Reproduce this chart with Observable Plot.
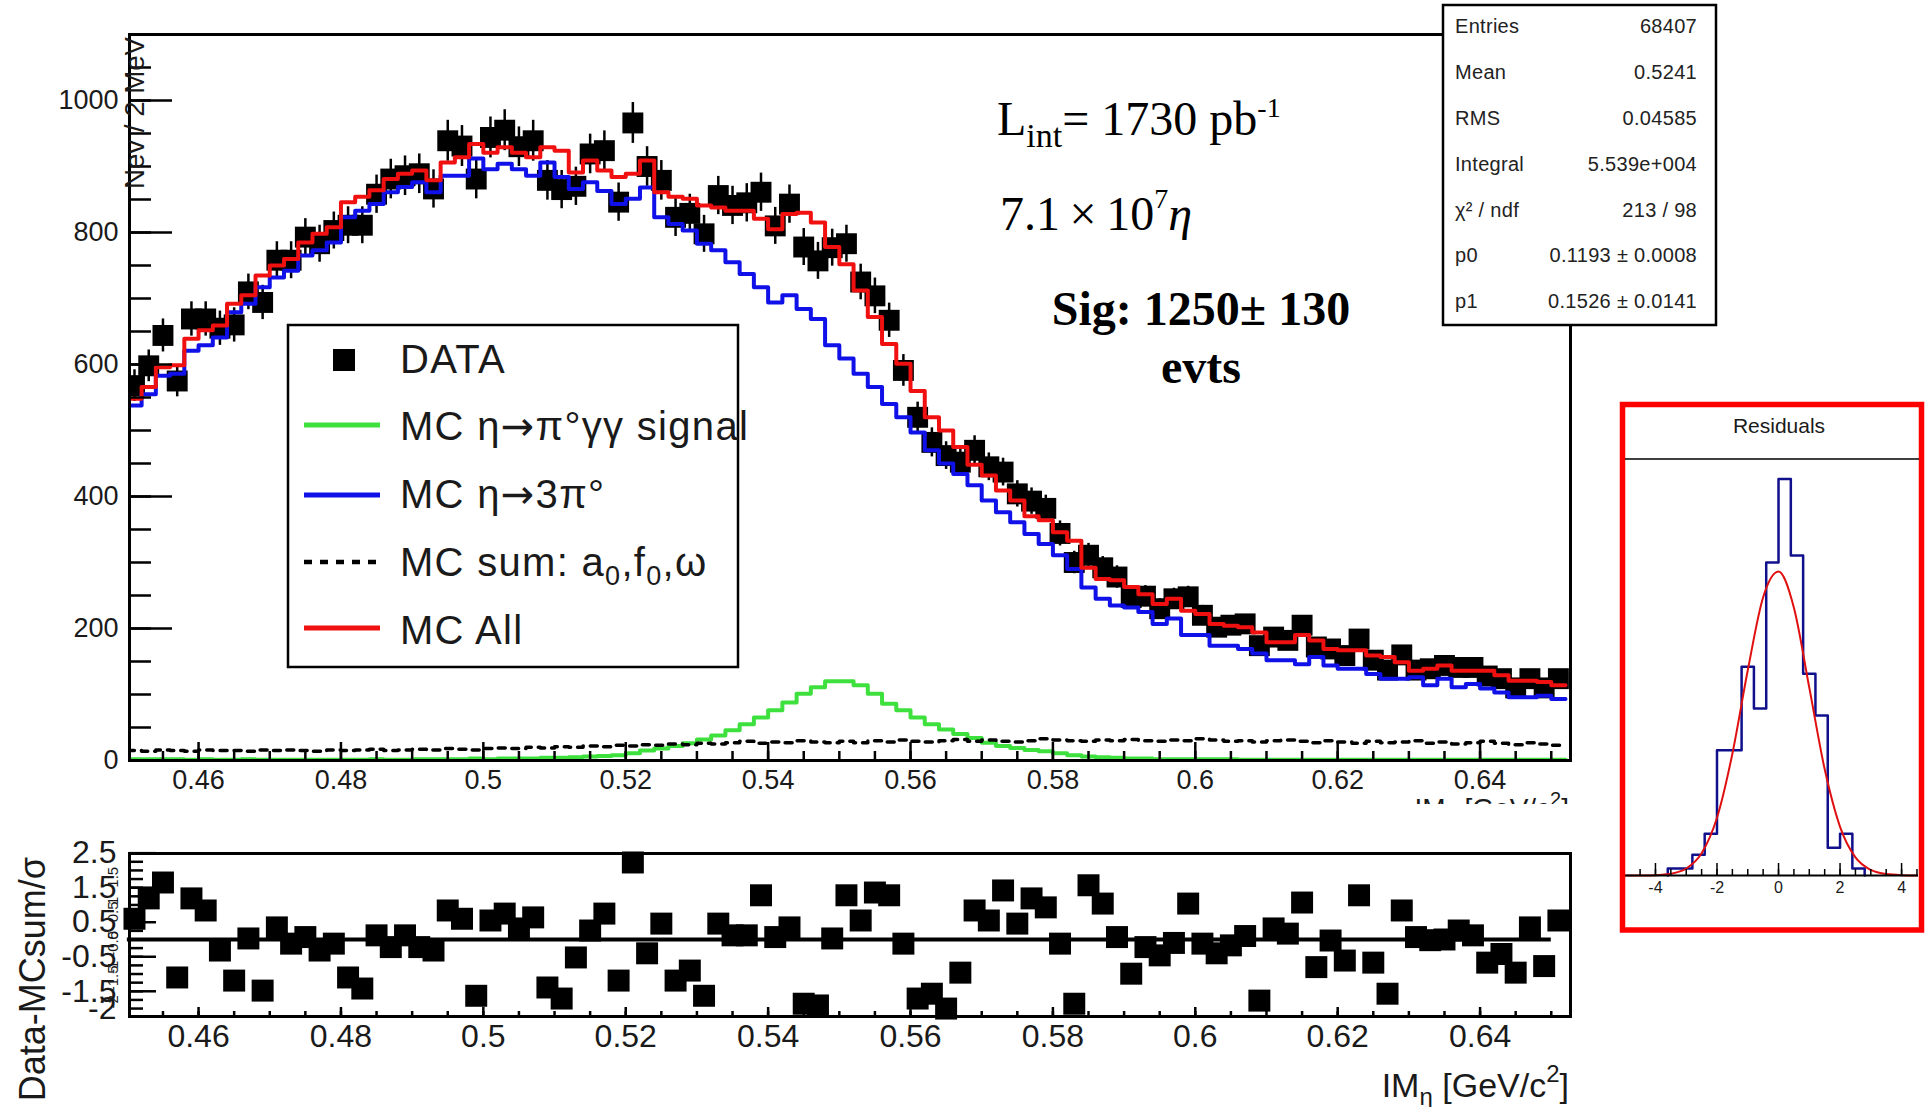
<!DOCTYPE html>
<html>
<head>
<meta charset="utf-8">
<script src="https://cdn.jsdelivr.net/npm/d3@7"></script>
<script src="https://cdn.jsdelivr.net/npm/@observablehq/plot@0.6"></script>
<style>
  html, body { margin: 0; padding: 0; background: #fff; }
  #page { position: relative; width: 1932px; height: 1107px; overflow: hidden; background: #fff; }
</style>
</head>
<body>
<div id="page"></div>
<script>
// ---------------------------------------------------------------
// Invariant-mass spectrum of eta candidates, 2 MeV bins from 0.450 GeV
// ---------------------------------------------------------------
const binStart = 0.450;
const binWidth = 0.002;

// DATA (events per bin) and their statistical errors
const dataCounts = [
  568,598,644,575,669,669,655,660,710,694,
  758,758,793,783,803,811,811,858,881,886,
  889,866,939,931,881,944,955,930,939,879,
  865,870,919,924,846,966,900,879,823,829,
  798,856,841,845,861,810,843,778,757,777,
  783,725,704,667,591,520,482,462,452,470,
  445,437,404,393,382,344,300,311,292,278,
  247,249,230,245,248,220,202,205,207,174,
  187,182,205,172,169,159,184,152,137,160,
  137,139,144,141,141,128,124,110,124,110,
  124];
const dataErrors = [
  24,24,25,24,26,26,26,26,27,26,
  28,28,28,28,28,28,28,29,30,30,
  30,29,31,31,30,31,31,30,31,30,
  29,29,30,30,29,31,30,30,29,29,
  28,29,29,29,29,28,29,28,28,28,
  28,27,27,26,24,23,22,21,21,22,
  21,21,20,20,20,19,17,18,17,17,
  16,16,15,16,16,15,14,14,14,13,
  14,13,14,13,13,13,14,12,12,13,
  12,12,12,12,12,11,11,10,11,10,
  11];

// MC eta -> 3pi0
const mcEta3pi0 = [
  538,555,583,586,621,629,641,679,692,717,
  732,742,765,773,785,823,833,843,861,869,
  876,861,886,886,912,896,904,896,886,906,
  884,866,876,863,843,851,868,823,813,803,
  783,773,755,737,717,694,705,684,669,629,
  609,586,566,540,520,497,470,450,434,417,
  394,376,361,343,328,311,290,262,245,235,
  232,225,207,215,190,190,174,174,169,162,
  152,152,146,157,144,139,139,131,124,124,
  126,114,124,111,116,109,103,96,96,98,
  93];

// MC all contributions
const mcAll = [
  548,566,596,599,639,652,659,692,705,735,
  750,760,785,798,808,846,854,864,881,889,
  894,879,906,914,934,921,929,921,914,929,
  924,891,909,894,884,889,909,861,854,851,
  841,838,833,833,821,805,828,830,815,778,
  752,712,672,631,601,560,520,500,475,448,
  432,409,394,370,364,346,333,292,275,273,
  263,252,237,245,227,222,207,204,202,194,
  179,179,190,182,169,167,167,159,157,149,
  136,139,144,136,136,136,129,121,121,119,
  114];

// MC eta -> pi0 gamma gamma signal
const mcSignal = [
  2,2,2,2,1,2,1,1,2,1,
  1,1,1,1,1,1,1,2,1,1,
  2,2,2,2,3,2,3,3,3,4,
  4,5,6,7,8,11,15,18,22,26,
  32,38,46,55,65,76,88,101,111,120,
  120,114,101,86,76,65,55,47,40,34,
  27,22,19,16,14,11,8,6,5,4,
  3,3,2,2,2,2,2,2,1,1,
  1,1,1,1,1,1,1,1,1,1,
  1,1,1,1,1,1,1,1,1,1,
  1];

// MC sum of a0, f0, omega backgrounds
const mcBkgSum = [
  15,14,16,15,14,16,15,15,14,16,
  15,16,15,14,16,15,16,17,15,16,
  17,16,18,17,16,18,19,18,20,19,
  21,20,22,21,23,22,24,23,25,24,
  26,25,27,29,26,28,27,30,28,27,
  29,27,30,28,31,29,28,30,32,29,
  31,29,28,30,33,31,30,29,31,30,
  32,30,29,31,30,33,31,29,30,28,
  30,31,29,27,30,28,26,29,27,28,
  30,26,28,25,27,29,26,24,27,25,
  23];

// (Data - MCsum) / sigma per bin
const residuals = [
  0.6,1.19,1.65,-1.1,1.19,0.84,-0.32,-1.19,0.03,-1.48,
  0.35,-0.12,0.07,-0.32,-0.12,-1.1,-1.42,0.12,-0.22,0.12,
  -0.22,-0.32,0.84,0.6,-1.63,0.55,0.75,0.32,0.64,-1.39,
  -1.71,-0.52,0.26,0.75,-1.19,2.23,-0.4,0.46,-1.19,-0.9,
  -1.63,0.46,0.12,0.12,1.28,0.07,0.35,-1.86,-1.91,0.03,
  1.28,0.55,1.36,1.28,-0.12,-1.71,-1.57,-2.0,-0.96,0.84,
  0.55,1.42,0.46,1.19,0.93,-0.12,-1.86,1.57,1.04,0.07,
  -0.99,-0.22,-0.46,-0.1,1.04,-0.12,-0.4,-0.17,0.1,-1.77,
  0.32,0.17,1.07,-0.8,-0.03,-0.61,1.28,-0.67,-1.57,0.84,
  0.07,-0.02,0.0,0.26,0.12,-0.67,-0.42,-0.96,0.35,-0.77,
  0.55];
const fitRange = [0.450, 0.650];

// Distribution of residuals (0.4 wide bins starting at -3.6) and its Gaussian fit
const residHistStart = -3.6;
const residHistWidth = 0.4;
const residHistCounts = [1,1,3,6,18,18,30,24,45,57,46,29,23,4,6,1];
const gaussFitX = [-4.97,-4.5,-4,-3.5,-3,-2.5,-2,-1.5,-1,-0.5,0,0.5,1,1.5,2,2.5,3,3.5,4,4.55];
const gaussFitY = [0,0.01,0.05,0.25,1.0,3.2,8.3,17.5,29.5,40,43.7,38.5,27,15.3,7,2.6,0.8,0.2,0.05,0.01];

// Axis ticks and labels
const massTicks = [0.46,0.48,0.50,0.52,0.54,0.56,0.58,0.60,0.62,0.64];
const massTickLabels = ["0.46","0.48","0.5","0.52","0.54","0.56","0.58","0.6","0.62","0.64"];
const countTicks = [0,200,400,600,800,1000];
const countTickLabels = ["0","200","400","600","800","1000"];
const residTicks = [2.5,1.5,0.5,-0.5,-1.5,-2];
const residTickLabels = ["2.5","1.5","0.5","-0.5","-1.5","-2"];
// second, smaller set of residual-axis labels drawn vertically over the first
const residTicksSmall = [1.5,1,0.5,0,-0.5,-1,-1.5,-2];
const residTickLabelsSmall = ["1.5","1","0.5","0","-0.5","-1","-1.5","-2"];
const pullTicks = [-4,-2,0,2,4];
const pullTickLabels = ["-4","-2","0","2","4"];

// Legend, statistics box and annotations
const legendLabels = ["DATA", "MC \u03B7\u2192\u03C0\u00B0\u03B3\u03B3 signal", "MC \u03B7\u21923\u03C0\u00B0", "MC sum: a|0|,f|0|,\u03C9", "MC All"];
const statRows = [
  ["Entries", "68407"], ["Mean", "0.5241"], ["RMS", "0.04585"], ["Integral", "5.539e+004"],
  ["\u03C7\u00B2 / ndf", "213 / 98"], ["p0", "0.1193 \u00B1 0.0008"], ["p1", "0.1526 \u00B1 0.0141"]];
const lumiText = "1730";
const etaCount = "7.1";
const signalText = "Sig: 1250\u00B1 130";

// ---------------------------------------------------------------
const FONT = "'Liberation Sans', Arial, Helvetica, sans-serif";
const SERIF = "'Liberation Serif', 'Times New Roman', Times, serif";
const INK = "#1a1a1a";
const C_RED = "#f01010", C_BLUE = "#1010e8", C_GREEN = "#3ee03e";
const X_DOMAIN = [0.4503, 0.6527];

const bins = dataCounts.map((v, i) => ({
  mid: binStart + (i + 0.5) * binWidth,
  data: v, err: dataErrors[i], res: residuals[i]
}));
const steps = vals => vals.map((v, i) => ({x: binStart + i * binWidth, y: v}))
  .concat([{x: binStart + vals.length * binWidth, y: vals[vals.length - 1]}]);
const fmt = (ticks, labels) => d => labels[ticks.findIndex(t => Math.abs(t - d) < 1e-9)];
const massMinor = d3.range(91, 131).map(k => k * 0.005);

const page = document.getElementById("page");
function place(el, left, top) {
  el.style.position = "absolute";
  el.style.left = left + "px";
  el.style.top = top + "px";
  page.appendChild(el);
}

// ---------------- upper pad: mass spectrum ----------------
const mainW = 1600, mainH = 806, mainM = {top: 34, right: 30, bottom: 46, left: 129};
const mainPW = mainW - mainM.left - mainM.right;
const mainPH = mainH - mainM.top - mainM.bottom;
const lineOpts = {x: "x", y: "y", curve: "step-after", clip: true};

const main = Plot.plot({
  width: mainW, height: mainH,
  marginTop: mainM.top, marginRight: mainM.right, marginBottom: mainM.bottom, marginLeft: mainM.left,
  x: {domain: X_DOMAIN},
  y: {domain: [0, 1100]},
  style: {fontFamily: FONT, color: INK, background: "#fff"},
  marks: [
    Plot.ruleX(bins, {x: "mid", y1: d => d.data - d.err, y2: d => d.data + d.err, stroke: "#000", strokeWidth: 2.5, clip: true}),
    Plot.dot(bins, {x: "mid", y: "data", symbol: "square", r: 11.8, fill: "#000", clip: true}),
    Plot.line(steps(mcEta3pi0), {...lineOpts, stroke: C_BLUE, strokeWidth: 4}),
    Plot.line(steps(mcSignal), {...lineOpts, stroke: C_GREEN, strokeWidth: 4}),
    Plot.line(steps(mcBkgSum), {...lineOpts, stroke: "#000", strokeWidth: 3.5, strokeDasharray: "7,7"}),
    Plot.line(steps(mcAll), {...lineOpts, stroke: C_RED, strokeWidth: 4}),
    Plot.tickY(d3.range(50, 1100, 50), {insetRight: mainPW - 22, stroke: "#000", strokeWidth: 2.5}),
    Plot.tickY(countTicks, {insetRight: mainPW - 43, stroke: "#000", strokeWidth: 2.5}),
    Plot.tickX(massMinor, {insetTop: mainPH - 9, stroke: "#000", strokeWidth: 2.5}),
    Plot.tickX(massTicks, {insetTop: mainPH - 18, stroke: "#000", strokeWidth: 2.5}),
    Plot.frame({stroke: "#000", strokeWidth: 3}),
    Plot.axisY(countTicks, {tickSize: 0, tickPadding: 11, fontSize: 27, label: null, tickFormat: fmt(countTicks, countTickLabels)}),
    Plot.axisX(massTicks, {tickSize: 0, tickPadding: 9, fontSize: 27, label: null, tickFormat: fmt(massTicks, massTickLabels)})
  ]
});
place(main, 0, 0);

// ---------------- lower pad: residuals vs mass ----------------
const resW = 1600, resH = 301, resM = {top: 47, right: 30, bottom: 91, left: 129};
const resPW = resW - resM.left - resM.right;
const resPH = resH - resM.top - resM.bottom;
const lower = Plot.plot({
  width: resW, height: resH,
  marginTop: resM.top, marginRight: resM.right, marginBottom: resM.bottom, marginLeft: resM.left,
  x: {domain: X_DOMAIN},
  y: {domain: [-2.23, 2.49]},
  style: {fontFamily: FONT, color: INK, background: "#fff"},
  marks: [
    Plot.ruleY([0], {x1: fitRange[0], x2: fitRange[1], stroke: "#000", strokeWidth: 4}),
    Plot.dot(bins, {x: "mid", y: "res", symbol: "square", r: 12.4, fill: "#000"}),
    Plot.tickY(d3.range(-8, 10).map(k => k * 0.25), {insetRight: resPW - 14, stroke: "#000", strokeWidth: 2.5}),
    Plot.tickY([2.5, 1.5, 0.5, -0.5, -1.5], {insetRight: resPW - 27, stroke: "#000", strokeWidth: 2.5}),
    Plot.tickX(massMinor, {insetTop: resPH - 5, stroke: "#000", strokeWidth: 2.5}),
    Plot.tickX(massTicks, {insetTop: resPH - 9, stroke: "#000", strokeWidth: 2.5}),
    Plot.frame({stroke: "#000", strokeWidth: 3}),
    Plot.axisY(residTicks, {tickSize: 0, tickPadding: 13, fontSize: 32, label: null, tickFormat: fmt(residTicks, residTickLabels)}),
    Plot.text(residTicksSmall, {y: d => d, frameAnchor: "left", dx: -16, rotate: -90, fontSize: 15, fill: INK,
      text: fmt(residTicksSmall, residTickLabelsSmall)}),
    Plot.axisX(massTicks, {tickSize: 0, tickPadding: 8, fontSize: 32, label: null, tickFormat: fmt(massTicks, massTickLabels)})
  ]
});
place(lower, 0, 806);

// ---------------- inset: distribution of residuals ----------------
const insW = 293, insH = 468, insM = {top: 0, right: 0, bottom: 52, left: 0};
const insPH = insH - insM.top - insM.bottom;
const n = residHistCounts.length;
const histOutline = [{x: residHistStart, y: 0}]
  .concat(residHistCounts.map((c, i) => ({x: residHistStart + i * residHistWidth, y: c})))
  .concat([{x: residHistStart + n * residHistWidth, y: residHistCounts[n - 1]},
           {x: residHistStart + n * residHistWidth, y: 0}]);
const gaussPts = gaussFitX.map((x, i) => ({x, y: gaussFitY[i]}));
const inset = Plot.plot({
  width: insW, height: insH,
  marginTop: insM.top, marginRight: insM.right, marginBottom: insM.bottom, marginLeft: insM.left,
  x: {domain: [-4.974, 4.55]},
  y: {domain: [0, 59.8], axis: null},
  style: {fontFamily: FONT, color: INK, background: "#fff"},
  marks: [
    Plot.line(histOutline, {x: "x", y: "y", curve: "step-after", stroke: "#10108c", strokeWidth: 2.5}),
    Plot.line(gaussPts, {x: "x", y: "y", curve: "monotone-x", stroke: "#e01010", strokeWidth: 2}),
    Plot.ruleY([0], {stroke: "#000", strokeWidth: 2}),
    Plot.tickX(d3.range(-9, 10).map(k => k * 0.5), {insetTop: insPH - 6, stroke: "#000", strokeWidth: 1.5}),
    Plot.tickX(pullTicks, {insetTop: insPH - 12, stroke: "#000", strokeWidth: 1.5}),
    Plot.axisX(pullTicks, {tickSize: 0, tickPadding: 6, fontSize: 16, label: null, tickFormat: fmt(pullTicks, pullTickLabels)})
  ]
});
place(inset, 1625, 459);

// ---------------- titles, legend, statistics box, annotations ----------------
function legendLabel(s) {
  // "a|0|" marks a subscript; arrows use a font with a full-size glyph
  const parts = s.split("|");
  let out = "";
  parts.forEach((p, i) => {
    if (i % 2 === 1) out += `<tspan font-size="27" dy="9">${p}</tspan>`;
    else out += (i === 0 ? p : `<tspan dy="-9">${p}</tspan>`);
  });
  return out.replace(/\u2192/g, `<tspan font-family="'DejaVu Sans'">\u2192</tspan>`);
}
const legendRows = [
  {y: 360, text: 373, kind: "square"},
  {y: 425, text: 440, kind: "line", color: C_GREEN},
  {y: 495, text: 508, kind: "line", color: C_BLUE},
  {y: 562, text: 576, kind: "dash", color: "#000"},
  {y: 628, text: 644, kind: "line", color: C_RED}
];
const legendSvg = legendRows.map((r, i) => {
  let sym;
  if (r.kind === "square") sym = `<rect x="333" y="${r.y - 11}" width="22" height="22" fill="#000"/>`;
  else if (r.kind === "dash") sym = `<line x1="304" x2="380" y1="${r.y}" y2="${r.y}" stroke="#000" stroke-width="4.5" stroke-dasharray="8,8"/>`;
  else sym = `<line x1="304" x2="380" y1="${r.y}" y2="${r.y}" stroke="${r.color}" stroke-width="5"/>`;
  return sym + `<text x="400" y="${r.text}" font-size="40" letter-spacing="1.3" fill="${INK}">${legendLabel(legendLabels[i])}</text>`;
}).join("");

const statBase = [33, 79, 125, 171, 217, 262, 308];
const statSvg = statRows.map((r, i) =>
  `<text x="1455" y="${statBase[i]}" font-size="20" letter-spacing="0.3" fill="#222">${r[0]}</text>` +
  `<text x="1697" y="${statBase[i]}" font-size="20" letter-spacing="0.3" fill="#222" text-anchor="end">${r[1]}</text>`).join("");

const overlay = `
<svg xmlns="http://www.w3.org/2000/svg" width="1932" height="1107" style="position:absolute;left:0;top:0" font-family="${FONT}">
  <defs><clipPath id="upperPad"><rect x="0" y="0" width="1932" height="804"/></clipPath></defs>

  <text transform="translate(144,37) rotate(-90)" text-anchor="end" font-size="27" textLength="152" lengthAdjust="spacingAndGlyphs" fill="${INK}">Nev / 2 MeV</text>
  <text clip-path="url(#upperPad)" x="1569" y="818" text-anchor="end" font-size="28" fill="${INK}">IM<tspan font-size="20" dy="7">\u03B7</tspan><tspan dy="-7"> [GeV/c</tspan><tspan font-size="20" dy="-12">2</tspan><tspan dy="12">]</tspan></text>

  <rect x="288" y="325" width="450" height="342" fill="#fff" stroke="#000" stroke-width="2.5"/>
  ${legendSvg}

  <rect x="1443" y="5" width="273" height="320" fill="#fff" stroke="#000" stroke-width="2.5"/>
  ${statSvg}

  <text x="997" y="135" font-family="${SERIF}" font-size="48" fill="#000">L<tspan font-size="34" dy="12">int</tspan><tspan dy="-12">= ${lumiText} pb</tspan><tspan font-size="28" dy="-18">-1</tspan></text>
  <text x="1000" y="230" font-family="${SERIF}" font-size="48" fill="#000">${etaCount}\u2009\u00D7\u200910<tspan font-size="28" dy="-22">7</tspan><tspan dy="22" font-style="italic">\u03B7</tspan></text>
  <text x="1201" y="325" text-anchor="middle" font-family="${SERIF}" font-weight="bold" font-size="48" fill="#000">${signalText}</text>
  <text x="1201" y="383" text-anchor="middle" font-family="${SERIF}" font-weight="bold" font-size="48" fill="#000">evts</text>

  <text transform="translate(45,857) rotate(-90)" text-anchor="end" font-size="36" fill="${INK}">Data-MCsum/\u03C3</text>
  <text x="1569" y="1097" text-anchor="end" font-size="34" fill="${INK}">IM<tspan font-size="24" dy="8">\u03B7</tspan><tspan dy="-8"> [GeV/c</tspan><tspan font-size="24" dy="-15">2</tspan><tspan dy="15">]</tspan></text>

  <rect x="1622.5" y="404.5" width="299" height="525.5" fill="none" stroke="#ff0000" stroke-width="5.5"/>
  <text x="1779" y="433" text-anchor="middle" font-size="21" fill="${INK}">Residuals</text>
  <line x1="1625" x2="1919" y1="459" y2="459" stroke="#000" stroke-width="1.5"/>
</svg>`;
page.insertAdjacentHTML("beforeend", overlay);
</script>
</body>
</html>
